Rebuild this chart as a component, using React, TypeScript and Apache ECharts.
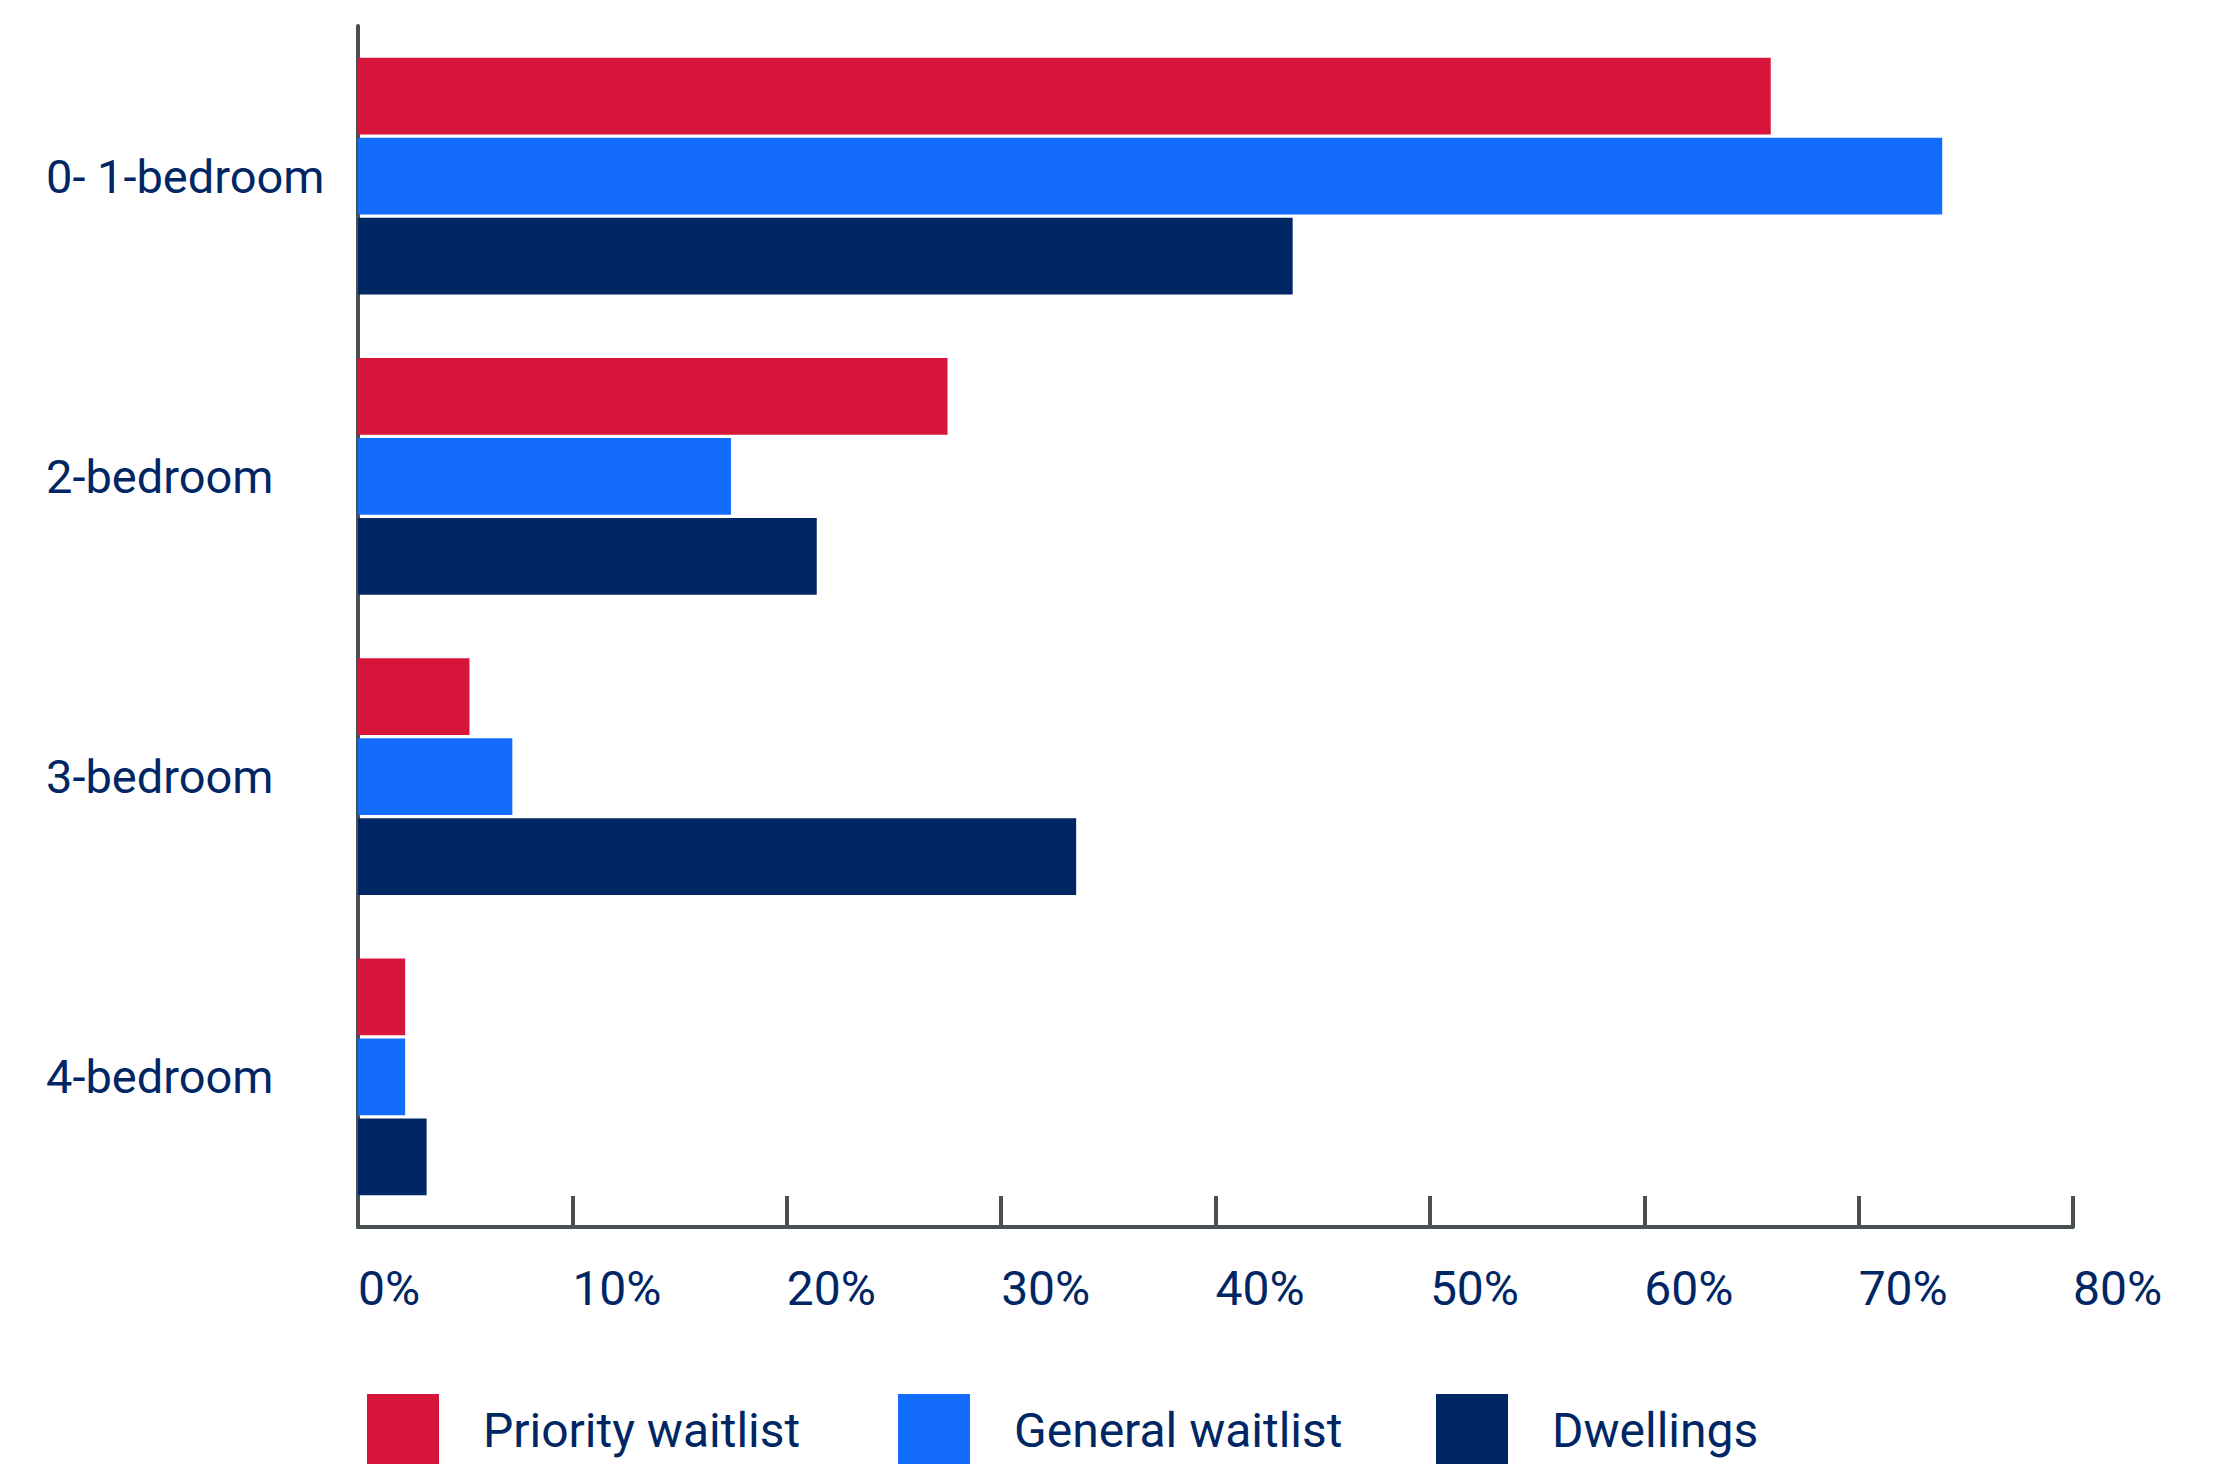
import React, { useEffect, useRef } from "react";
import * as echarts from "echarts";

const categories = ["0- 1-bedroom", "2-bedroom", "3-bedroom", "4-bedroom"];
const seriesNames = ["Priority waitlist", "General waitlist", "Dwellings"];
const priorityWaitlist = [65.9, 27.5, 5.2, 2.2];
const generalWaitlist = [73.9, 17.4, 7.2, 2.2];
const dwellings = [43.6, 21.4, 33.5, 3.2];
const seriesColors = ["#D7153A", "#146CFD", "#002664"];
const xTicks = { min: 0, max: 80, interval: 10 };

const TEXT = "#002664";
const AXIS = "#495054";
const FONT = "Roboto";

export default function App() {
  const ref = useRef<HTMLDivElement>(null);
  useEffect(() => {
    if (!ref.current) return;
    const chart = echarts.init(ref.current, undefined, { renderer: "svg" });
    const values = [priorityWaitlist, generalWaitlist, dwellings];
    const legendLefts = [367, 898, 1436];
    chart.setOption({
      animation: false,
      backgroundColor: "#ffffff",
      grid: { left: 358, right: 160, top: 26, bottom: 237, containLabel: false },
      legend: seriesNames.map((n, i) => ({
        data: [n],
        left: legendLefts[i],
        top: 1394,
        padding: 0,
        icon: "rect",
        itemWidth: 72,
        itemHeight: 72,
        itemStyle: { borderWidth: 0 },
        selectedMode: false,
        textStyle: {
          color: TEXT,
          fontFamily: FONT,
          fontSize: 48,
          padding: [0, 0, 0, 39],
        },
      })),
      xAxis: {
        type: "value",
        min: xTicks.min,
        max: xTicks.max,
        interval: xTicks.interval,
        axisLine: { show: true, lineStyle: { color: AXIS, width: 4 } },
        axisTick: { show: true, inside: true, length: 31, lineStyle: { color: AXIS, width: 4 } },
        splitLine: { show: false },
        axisLabel: {
          formatter: "{value}%",
          color: TEXT,
          fontFamily: FONT,
          fontSize: 48,
          align: "left",
          verticalAlign: "middle",
          margin: 61,
        },
      },
      yAxis: {
        type: "category",
        inverse: true,
        data: categories,
        axisLine: { show: true, lineStyle: { color: AXIS, width: 4 } },
        axisTick: { show: false },
        splitLine: { show: false },
        axisLabel: {
          color: TEXT,
          fontFamily: FONT,
          fontSize: 47,
          align: "left",
          margin: 312,
          padding: [8, 0, 0, 0],
        },
      },
      series: seriesNames.map((n, i) => ({
        name: n,
        type: "bar",
        data: values[i],
        barWidth: 76.7,
        barGap: "4.3%",
        itemStyle: { color: seriesColors[i] },
        z: 1,
      })),
    });
    return () => chart.dispose();
  }, []);
  return (
    <div
      ref={ref}
      style={{ position: "absolute", left: 0, top: 0, width: 2233, height: 1464 }}
    />
  );
}
